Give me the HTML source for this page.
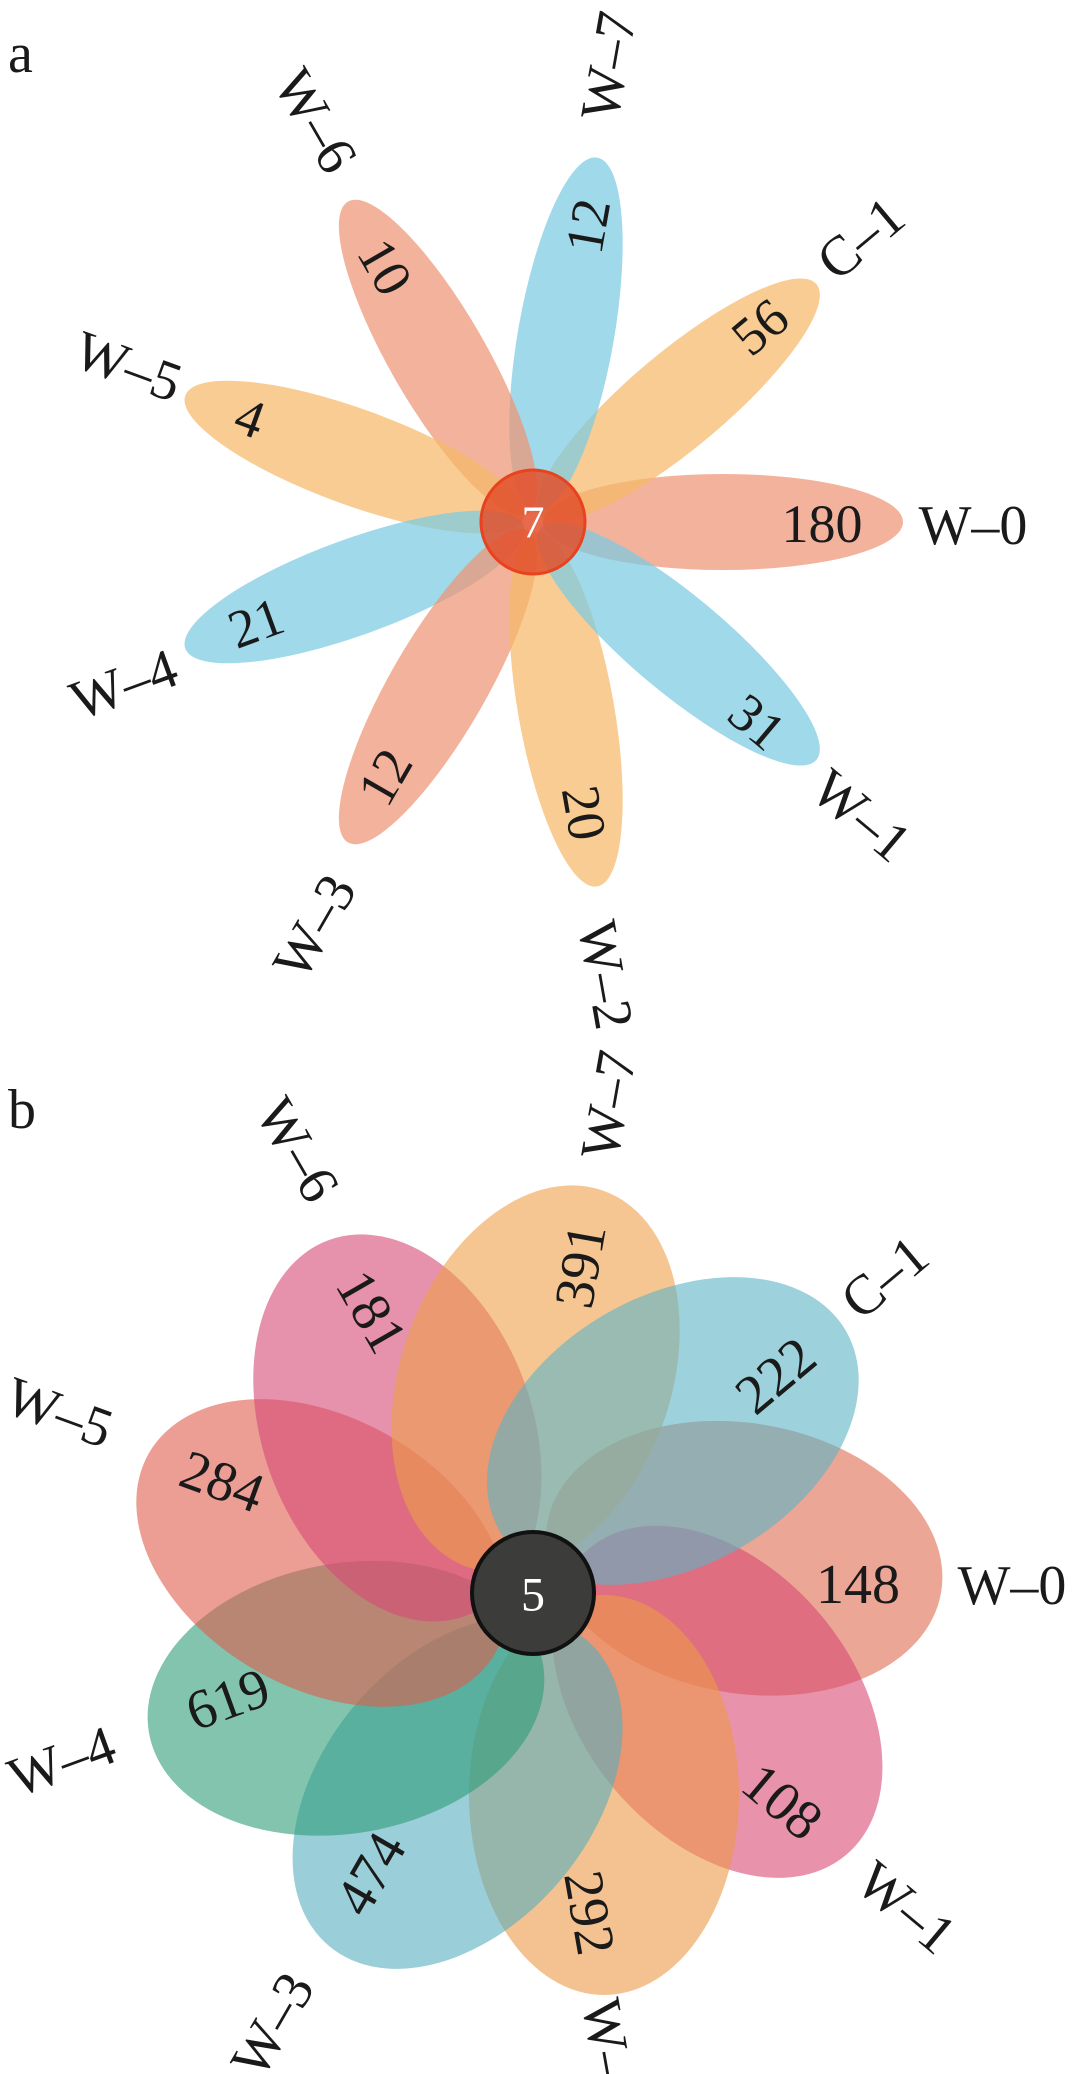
<!DOCTYPE html>
<html><head><meta charset="utf-8"><style>
html,body{margin:0;padding:0;background:#fff;}
svg{display:block;}
text{font-family:"Liberation Serif",serif;fill:#1a1a1a;}
.pa ellipse{opacity:.72;}
.pb ellipse{opacity:.6;}
</style></head><body>
<svg width="1079" height="2074" viewBox="0 0 1079 2074" xmlns="http://www.w3.org/2000/svg">
<rect width="1079" height="2074" fill="#fff"/>
<text x="8" y="72" font-size="56">a</text>
<g class="pa">
<ellipse cx="723" cy="522" rx="180" ry="48" fill="#ee9474" transform="rotate(0 533 522)"/>
<ellipse cx="723" cy="522" rx="180" ry="48" fill="#f5b868" transform="rotate(-40 533 522)"/>
<ellipse cx="723" cy="522" rx="180" ry="48" fill="#7ccae2" transform="rotate(-80 533 522)"/>
<ellipse cx="723" cy="522" rx="180" ry="48" fill="#ee9474" transform="rotate(-120 533 522)"/>
<ellipse cx="723" cy="522" rx="180" ry="48" fill="#f5b868" transform="rotate(-160 533 522)"/>
<ellipse cx="723" cy="522" rx="180" ry="48" fill="#7ccae2" transform="rotate(160 533 522)"/>
<ellipse cx="723" cy="522" rx="180" ry="48" fill="#ee9474" transform="rotate(120 533 522)"/>
<ellipse cx="723" cy="522" rx="180" ry="48" fill="#f5b868" transform="rotate(80 533 522)"/>
<ellipse cx="723" cy="522" rx="180" ry="48" fill="#7ccae2" transform="rotate(40 533 522)"/>
</g>
<circle cx="533" cy="522" r="52" fill="#e2502c" fill-opacity="0.85" stroke="#e8421e" stroke-width="3"/>
<text x="533" y="522" font-size="46" text-anchor="middle" dominant-baseline="central" style="fill:#fff">7</text>
<g font-size="54" text-anchor="middle" dominant-baseline="central">
<text x="822" y="524">180</text>
<text transform="translate(757 722) rotate(40)">31</text>
<text transform="translate(584 813) rotate(80)">20</text>
<text transform="translate(385 777) rotate(-60)">12</text>
<text transform="translate(256 623) rotate(-20)">21</text>
<text transform="translate(250 418) rotate(20)">4</text>
<text transform="translate(385 267) rotate(60)">10</text>
<text transform="translate(588 226) rotate(-80)">12</text>
<text transform="translate(760 327) rotate(-40)">56</text>
</g>
<g font-size="56" text-anchor="middle" dominant-baseline="central">
<text x="973" y="526">W–0</text>
<text transform="translate(861 816) rotate(40)">W–1</text>
<text transform="translate(605 975) rotate(80)">W–2</text>
<text transform="translate(315 927) rotate(-60)">W–3</text>
<text transform="translate(124 685) rotate(-20)">W–4</text>
<text transform="translate(128 367) rotate(20)">W–5</text>
<text transform="translate(315 121) rotate(60)">W–6</text>
<text transform="translate(609 66) rotate(-80)">W–7</text>
<text transform="translate(861 239) rotate(-40)">C–1</text>
</g>

<text x="8" y="1128" font-size="56">b</text>
<g class="pb">
<g transform="translate(941 1593) rotate(10)"><ellipse cx="-200" cy="0" rx="200" ry="135" fill="#e06a4e"/></g>
<g transform="translate(846 1855) rotate(50)"><ellipse cx="-200" cy="0" rx="200" ry="135" fill="#d84a74"/></g>
<g transform="translate(604 1995) rotate(90)"><ellipse cx="-200" cy="0" rx="200" ry="135" fill="#ec9a48"/></g>
<g transform="translate(329 1946) rotate(130)"><ellipse cx="-200" cy="0" rx="200" ry="135" fill="#56aebe"/></g>
<g transform="translate(149 1733) rotate(170)"><ellipse cx="-200" cy="0" rx="200" ry="135" fill="#2e9d78"/></g>
<g transform="translate(149 1453) rotate(210)"><ellipse cx="-200" cy="0" rx="200" ry="135" fill="#e05e4c"/></g>
<g transform="translate(329 1240) rotate(250)"><ellipse cx="-200" cy="0" rx="200" ry="135" fill="#d64a76"/></g>
<g transform="translate(604 1191) rotate(290)"><ellipse cx="-200" cy="0" rx="200" ry="135" fill="#ee9e4a"/></g>
<g transform="translate(846 1331) rotate(330)"><ellipse cx="-200" cy="0" rx="200" ry="135" fill="#5cb4c6"/></g>
</g>
<circle cx="533" cy="1593" r="61" fill="#3c3c3a" stroke="#111" stroke-width="4"/>
<text x="533" y="1595" font-size="48" text-anchor="middle" dominant-baseline="central" style="fill:#fff">5</text>
<g font-size="56" text-anchor="middle" dominant-baseline="central">
<text x="858" y="1585">148</text>
<text transform="translate(782 1802) rotate(40)">108</text>
<text transform="translate(589 1913) rotate(80)">292</text>
<text transform="translate(371 1874) rotate(-60)">474</text>
<text transform="translate(228 1700) rotate(-20)">619</text>
<text transform="translate(222 1482) rotate(20)">284</text>
<text transform="translate(371 1312) rotate(60)">181</text>
<text transform="translate(581 1266) rotate(-80)">391</text>
<text transform="translate(776 1376) rotate(-40)">222</text>
</g>
<g font-size="56" text-anchor="middle" dominant-baseline="central">
<text x="1012" y="1586">W–0</text>
<text transform="translate(906 1908) rotate(40)">W–1</text>
<text transform="translate(609 2053) rotate(80)">W–2</text>
<text transform="translate(273 2025) rotate(-60)">W–3</text>
<text transform="translate(62 1762) rotate(-20)">W–4</text>
<text transform="translate(59 1413) rotate(20)">W–5</text>
<text transform="translate(297 1150) rotate(60)">W–6</text>
<text transform="translate(609 1105) rotate(-80)">W–7</text>
<text transform="translate(885 1278) rotate(-40)">C–1</text>
</g>
</svg>
</body></html>
